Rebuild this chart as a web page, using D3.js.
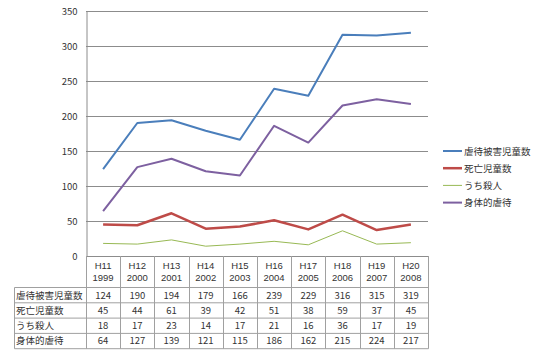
<!DOCTYPE html>
<html>
<head>
<meta charset="utf-8">
<script src="https://cdn.jsdelivr.net/npm/d3@7"></script>
<style>
body { margin: 0; background: #fff; }
text { font-family: "Noto Sans CJK JP", "DejaVu Sans", sans-serif; fill: #333; }
text.hdr { font-family: "Liberation Sans", sans-serif; }
</style>
</head>
<body>
<div id="chart"></div>
<script>
// data
var eras = ["H11", "H12", "H13", "H14", "H15", "H16", "H17", "H18", "H19", "H20"];
var years = ["1999", "2000", "2001", "2002", "2003", "2004", "2005", "2006", "2007", "2008"];
var seriesNames = ["虐待被害児童数", "死亡児童数", "うち殺人", "身体的虐待"];
var victims = [124, 190, 194, 179, 166, 239, 229, 316, 315, 319];
var deaths = [45, 44, 61, 39, 42, 51, 38, 59, 37, 45];
var murders = [18, 17, 23, 14, 17, 21, 16, 36, 17, 19];
var physical = [64, 127, 139, 121, 115, 186, 162, 215, 224, 217];
var yTicks = [0, 50, 100, 150, 200, 250, 300, 350];

var colors = ["#4A7EBB", "#BE4B48", "#98B954", "#7D60A0"];
var widths = [2, 2.5, 1, 2];
var allSeries = [victims, deaths, murders, physical];

var width = 538, height = 354;
var plot = {left: 86, right: 428, top: 11, bottom: 256};

var svg = d3.select("#chart").append("svg")
	.attr("width", width)
	.attr("height", height);

var x = d3.scaleBand().domain(eras).range([plot.left, plot.right]);
var y = d3.scaleLinear().domain([0, 350]).range([plot.bottom, plot.top]);

// gridlines
svg.append("g").selectAll("line")
	.data(yTicks.slice(1))
	.enter().append("line")
	.attr("x1", plot.left).attr("x2", plot.right)
	.attr("y1", function(d) { return y(d) + 0.5; })
	.attr("y2", function(d) { return y(d) + 0.5; })
	.attr("stroke", "#8c8c8c");

// y axis (no tick marks)
var yAxis = svg.append("g")
	.attr("transform", "translate(" + (plot.left + 0.5) + ",0)")
	.call(d3.axisLeft(y).tickValues(yTicks).tickSize(0).tickPadding(9));
yAxis.select(".domain").attr("stroke", "#8c8c8c");
yAxis.selectAll("text").style("font-size", "9.5px").attr("fill", "#333");

// x axis line
svg.append("line")
	.attr("x1", plot.left).attr("x2", plot.right)
	.attr("y1", plot.bottom + 0.5).attr("y2", plot.bottom + 0.5)
	.attr("stroke", "#8c8c8c");

// data table
var rowTop = 287.5, rowH = 15.3, tableLeft = 14.5;
var nRows = allSeries.length;
var tableBottom = rowTop + rowH * nRows;
var tbl = svg.append("g");

// horizontal rules
for (var r = 0; r <= nRows; r++) {
	tbl.append("line")
		.attr("x1", tableLeft).attr("x2", plot.right + 0.5)
		.attr("y1", rowTop + r * rowH).attr("y2", rowTop + r * rowH)
		.attr("stroke", "#a0a0a0");
}
tbl.append("line")
	.attr("x1", tableLeft).attr("x2", tableLeft)
	.attr("y1", rowTop).attr("y2", tableBottom)
	.attr("stroke", "#a0a0a0");

// vertical rules between categories
var bounds = eras.map(function(d) { return x(d); }).concat([plot.right]);
tbl.selectAll(".vline")
	.data(bounds)
	.enter().append("line")
	.attr("class", "vline")
	.attr("x1", function(d) { return Math.round(d) + 0.5; })
	.attr("x2", function(d) { return Math.round(d) + 0.5; })
	.attr("y1", plot.bottom)
	.attr("y2", tableBottom)
	.attr("stroke", "#a0a0a0");

// header labels
eras.forEach(function(e, i) {
	var cx = x(e) + x.bandwidth() / 2;
	tbl.append("text").attr("class", "hdr").attr("x", cx).attr("y", 268.5)
		.attr("text-anchor", "middle").style("font-size", "9.5px").text(e);
	tbl.append("text").attr("class", "hdr").attr("x", cx).attr("y", 280.5)
		.attr("text-anchor", "middle").style("font-size", "9.5px").text(years[i]);
});

// row labels and values
allSeries.forEach(function(vals, r) {
	var ty = rowTop + r * rowH + 11;
	tbl.append("text").attr("x", 16).attr("y", ty)
		.style("font-size", "9.5px").text(seriesNames[r]);
	vals.forEach(function(v, i) {
		tbl.append("text").attr("x", x(eras[i]) + x.bandwidth() / 2).attr("y", ty)
			.attr("text-anchor", "middle").style("font-size", "9.5px").text(v);
	});
});

// lines
var line = d3.line()
	.x(function(d, i) { return x(eras[i]) + x.bandwidth() / 2; })
	.y(function(d) { return y(d); });

svg.append("g").selectAll("path")
	.data(allSeries)
	.enter().append("path")
	.attr("d", line)
	.attr("fill", "none")
	.attr("stroke", function(d, i) { return colors[i]; })
	.attr("stroke-width", function(d, i) { return widths[i]; })
	.attr("stroke-linejoin", "round");

// legend
var legend = svg.append("g");
seriesNames.forEach(function(name, i) {
	var ly = 151 + i * 17.2;
	legend.append("line")
		.attr("x1", 443).attr("x2", 462)
		.attr("y1", ly).attr("y2", ly)
		.attr("stroke", colors[i]).attr("stroke-width", widths[i]);
	legend.append("text").attr("x", 464).attr("y", ly + 3.5)
		.style("font-size", "9.5px").text(name);
});
</script>
</body>
</html>
